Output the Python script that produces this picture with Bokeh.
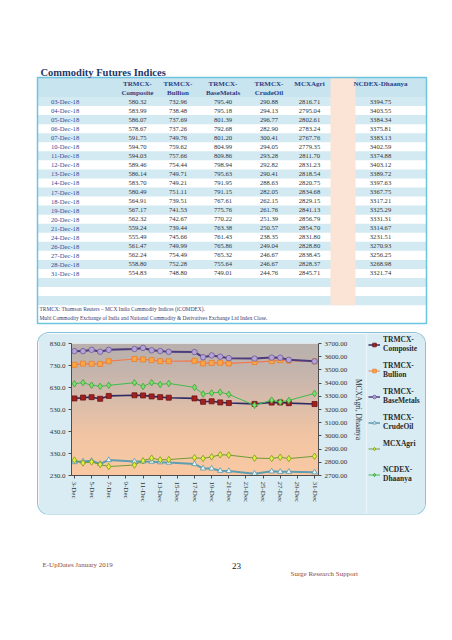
import numpy as np
from bokeh.plotting import figure
from bokeh.layouts import column, row
from bokeh.models import (Range1d, LinearAxis, FixedTicker, PrintfTickFormatter,
                          Legend, LegendItem, Spacer)
from bokeh.core.properties import value
from bokeh.embed import file_html
from bokeh.resources import INLINE

# ---------------- data ----------------
title = "Commodity Futures Indices"
series_names = ["TRMCX-Composite", "TRMCX-Bullion", "TRMCX-BaseMetals",
                "TRMCX-CrudeOil", "MCXAgri", "NCDEX-Dhaanya"]
dates = ["03-Dec-18", "04-Dec-18", "05-Dec-18", "06-Dec-18", "07-Dec-18",
         "10-Dec-18", "11-Dec-18", "12-Dec-18", "13-Dec-18", "14-Dec-18",
         "17-Dec-18", "18-Dec-18", "19-Dec-18", "20-Dec-18", "21-Dec-18",
         "24-Dec-18", "26-Dec-18", "27-Dec-18", "28-Dec-18", "31-Dec-18"]
composite = [580.32, 583.99, 586.07, 578.67, 591.75, 594.70, 594.03, 589.46, 586.14, 583.70,
             580.49, 564.91, 567.17, 562.32, 559.24, 555.49, 561.47, 562.24, 558.80, 554.83]
bullion = [732.96, 738.48, 737.69, 737.26, 749.76, 759.62, 757.66, 754.44, 749.71, 749.21,
           751.11, 739.51, 741.53, 742.67, 739.44, 745.66, 749.99, 754.49, 752.28, 748.80]
basemetals = [795.40, 795.18, 801.39, 792.68, 801.20, 804.99, 809.86, 798.94, 795.63, 791.95,
              791.15, 767.61, 775.76, 770.22, 763.38, 761.43, 765.86, 765.32, 755.64, 749.01]
crudeoil = [290.88, 294.13, 296.77, 282.90, 300.41, 294.05, 293.28, 292.82, 290.41, 288.63,
            282.05, 262.15, 261.76, 251.39, 250.57, 238.35, 249.04, 246.67, 246.67, 244.76]
mcxagri = [2816.71, 2795.04, 2802.61, 2783.24, 2767.76, 2779.35, 2811.70, 2831.23, 2818.54, 2820.75,
           2834.68, 2829.15, 2841.13, 2856.79, 2854.70, 2831.80, 2828.80, 2838.45, 2828.37, 2845.71]
ncdex = [3394.75, 3403.55, 3384.34, 3375.81, 3383.13, 3402.59, 3374.88, 3403.12, 3389.72, 3397.63,
         3367.75, 3317.21, 3325.29, 3331.31, 3314.67, 3231.51, 3270.93, 3256.25, 3268.98, 3321.74]
notes = ["TRMCX: Thomson Reuters \u2013 MCX India Commodity Indices (iCOMDEX).",
         "Multi Commodity Exchange of India and National Commodity & Derivatives Exchange Ltd Index Close."]
x_tick_labels = ["3-Dec", "5-Dec", "7-Dec", "9-Dec", "11-Dec", "13-Dec", "15-Dec", "17-Dec",
                 "19-Dec", "21-Dec", "23-Dec", "25-Dec", "27-Dec", "29-Dec", "31-Dec"]
left_ticks = [230, 330, 430, 530, 630, 730, 830]
right_ticks = [2700, 2800, 2900, 3000, 3100, 3200, 3300, 3400, 3500, 3600, 3700]
footer_left = "E-UpDates January 2019"
footer_page = "23"
footer_right = "Surge Research Support"

SERIF = value("Liberation Serif")
W = 452
BOX_BG = "#d9ecf3"

# ---------------- top: title + table ----------------
top = figure(width=W, height=333, x_range=Range1d(0, 452), y_range=Range1d(333, 0),
             output_backend="svg", toolbar_location=None, min_border=0,
             x_axis_type=None, y_axis_type=None, outline_line_color=None)
top.grid.visible = False

t_left, t_right, t_top, t_bot = 37, 426, 77, 323
head_bot = 96.5
pitch = 9.05
n_rows = len(dates) + 3
top.quad(left=t_left, right=t_right, top=t_top, bottom=head_bot, fill_color="#c8e4ef", line_color=None)
for i in range(n_rows):
    if i % 2 == 0:
        y0 = head_bot + i * pitch
        top.quad(left=t_left, right=t_right, top=y0, bottom=y0 + pitch,
                 fill_color="#d3eaf3", line_color=None)
rows_end = head_bot + n_rows * pitch
top.quad(left=330, right=355, top=t_top, bottom=rows_end, fill_color="#fbe4d5", line_color=None)
top.quad(left=t_left, right=t_right, top=t_top, bottom=t_bot, fill_color=None,
         line_color="#6cc4df", line_width=1.5)

top.text(x=[40], y=[72], text=[title], text_font=SERIF, text_font_style="bold",
         text_font_size="10.5px", text_color="#1f3566", text_baseline="middle")

col_x = [137, 177.5, 222.5, 268.5, 309, 380]
head1, head2 = [], []
for name in series_names:
    if name.startswith("TRMCX-"):
        head1.append("TRMCX-"); head2.append(name[6:])
    else:
        head1.append(name); head2.append("")
top.text(x=col_x, y=[83.5] * 6, text=head1, text_font=SERIF, text_font_style="bold",
         text_font_size="7px", text_color="#2b3f86", text_align="center", text_baseline="middle")
top.text(x=col_x, y=[92] * 6, text=head2, text_font=SERIF, text_font_style="bold",
         text_font_size="7px", text_color="#2b3f86", text_align="center", text_baseline="middle")

row_y = [head_bot + (i + 0.5) * pitch for i in range(len(dates))]
top.text(x=[50.5] * len(dates), y=row_y, text=dates, text_font=SERIF, text_font_size="6.6px",
         text_color="#34499a", text_baseline="middle")
all_series = [composite, bullion, basemetals, crudeoil, mcxagri, ncdex]
for vals, cx in zip(all_series, col_x):
    top.text(x=[cx] * len(vals), y=row_y, text=["%.2f" % v for v in vals], text_font=SERIF,
             text_font_size="6.6px", text_color="#333333", text_align="center",
             text_baseline="middle")
top.text(x=[39, 39], y=[308, 317.5], text=notes, text_font=SERIF, text_font_size="5.4px",
         text_color="#2f3d74", text_baseline="middle")

# ---------------- chart ----------------
days = [int(d.split("-")[0]) for d in dates]
x_ticks = [int(l.split("-")[0]) for l in x_tick_labels]
x0, x1 = 2.656, 31.46
chart = figure(width=328, height=181, x_range=Range1d(x0, x1), y_range=Range1d(230, 830),
               output_backend="svg", toolbar_location=None,
               min_border_left=33, min_border_right=44, min_border_top=10, min_border_bottom=39,
               border_fill_color=BOX_BG, background_fill_color=None, outline_line_color=None,
               frame_align=False)
chart.extra_y_ranges = {"agri": Range1d(2700, 3700)}

ny = 132
ys = np.linspace(230, 830, ny)
stop_y = [230, 420, 560, 700, 830]
stop_c = [(250, 201, 163), (241, 197, 165), (219, 189, 170), (197, 181, 173), (185, 177, 173)]
img = np.zeros((ny, 2), dtype=np.uint32)
view = img.view(dtype=np.uint8).reshape((ny, 2, 4))
for k in range(3):
    col = np.interp(ys, stop_y, [c[k] for c in stop_c])
    view[:, 0, k] = col
    view[:, 1, k] = col
view[:, :, 3] = 255
chart.image_rgba(image=[img], x=x0, y=230, dw=x1 - x0, dh=600)

chart.xgrid.visible = False
chart.ygrid.ticker = FixedTicker(ticks=left_ticks[1:-1])
chart.ygrid.grid_line_color = "white"
chart.ygrid.grid_line_dash = "3 2"
chart.ygrid.grid_line_width = 1

chart.yaxis.ticker = FixedTicker(ticks=left_ticks)
chart.yaxis.formatter = PrintfTickFormatter(format="%.1f")
chart.xaxis.ticker = FixedTicker(ticks=x_ticks)
chart.xaxis.major_label_overrides = {t: l for t, l in zip(x_ticks, x_tick_labels)}
chart.xaxis.major_label_orientation = "vertical"

ax_r = LinearAxis(y_range_name="agri", ticker=FixedTicker(ticks=right_ticks),
                  formatter=PrintfTickFormatter(format="%.2f"), axis_label="MCXAgri, Dhaanya")
chart.add_layout(ax_r, "right")

for ax in chart.axis:
    ax.axis_line_color = "#4d4d4d"
    ax.major_tick_line_color = "#4d4d4d"
    ax.major_tick_out = 3
    ax.major_tick_in = 0
    ax.minor_tick_line_color = None
    ax.major_label_text_font = "Liberation Serif"
    ax.major_label_text_font_size = "7px"
    ax.major_label_text_color = "#333333"
    ax.major_label_standoff = 3
    ax.axis_label_text_font = "Liberation Serif"
    ax.axis_label_text_font_size = "7.5px"
    ax.axis_label_text_font_style = "normal"
    ax.axis_label_text_color = "#333333"
    ax.axis_label_standoff = 4

styles = [
    dict(data=composite, rng="default", line="#2d2b63", lw=1.6, marker="square", fill="#a3201f", edge="#6a1515", size=5),
    dict(data=bullion, rng="default", line="#f07a52", lw=1.2, marker="square", fill="#f9a548", edge="#e8802c", size=5),
    dict(data=basemetals, rng="default", line="#4b3c7d", lw=2, marker="circle", fill="#b7a2d5", edge="#6c5a9c", size=5.5),
    dict(data=crudeoil, rng="default", line="#5f9db1", lw=2, marker="triangle", fill="#e6f6f9", edge="#5a97ad", size=5.5),
    dict(data=mcxagri, rng="agri", line="#6e9a3a", lw=1, marker="diamond", fill="#e3ef3e", edge="#7a9a1e", size=6.5),
    dict(data=ncdex, rng="agri", line="#3fbc4b", lw=1, marker="diamond", fill="#7ee068", edge="#3b9f40", size=6.5),
]

# legend lives in its own small panel to the right of the chart; its proxy
# renderers carry the same data but the panel's ranges keep them out of view
legfig = figure(width=59, height=181, x_range=Range1d(100, 101), y_range=Range1d(0, 1),
                output_backend="svg", toolbar_location=None, min_border=0,
                x_axis_type=None, y_axis_type=None, outline_line_color=None,
                background_fill_color=BOX_BG, border_fill_color=BOX_BG, frame_align=False)
legfig.grid.visible = False

items = []
for k, (name, s) in enumerate(zip(series_names, styles)):
    chart.line(days, s["data"], line_color=s["line"], line_width=s["lw"], y_range_name=s["rng"])
    chart.scatter(days, s["data"], marker=s["marker"], size=s["size"], fill_color=s["fill"],
                  line_color=s["edge"], line_width=0.8, y_range_name=s["rng"])
    lr = legfig.line(days, s["data"], line_color=s["line"], line_width=min(s["lw"], 1.5))
    mr = legfig.scatter(days, s["data"], marker=s["marker"], size=s["size"], fill_color=s["fill"],
                        line_color=s["edge"], line_width=0.8)
    label = name.replace("-", "-\n", 1) if "-" in name else name + "\n "
    items.append(LegendItem(label=label, renderers=[lr, mr]))

legend = Legend(items=items, location="top_left", background_fill_alpha=0, border_line_color=None,
                label_text_font="Liberation Serif", label_text_font_style="bold",
                label_text_font_size="7.5px", label_text_color="#2a2a2a",
                glyph_width=12, glyph_height=9, spacing=8, padding=4, margin=2,
                label_standoff=3)
legfig.add_layout(legend)

box = row(chart, legfig, styles={"border-radius": "11px", "overflow": "hidden",
                                 "box-shadow": "0 0 0 1px #86c1d7"})

# ---------------- bottom: footer ----------------
bottom = figure(width=W, height=124, x_range=Range1d(0, 452), y_range=Range1d(638, 514),
                output_backend="svg", toolbar_location=None, min_border=0,
                x_axis_type=None, y_axis_type=None, outline_line_color=None)
bottom.grid.visible = False
bottom.text(x=[42], y=[564], text=[footer_left], text_font=SERIF, text_font_size="7px",
            text_color="#8c4a3c", text_baseline="middle")
bottom.text(x=[236], y=[565], text=[footer_page], text_font=SERIF, text_font_size="9px",
            text_color="#111111", text_baseline="middle", text_align="center")
bottom.text(x=[290], y=[573], text=[footer_right], text_font=SERIF, text_font_size="7px",
            text_color="#8c4a3c", text_baseline="middle")

page = column(top, row(Spacer(width=38, height=181), box, Spacer(width=27, height=181)), bottom)

open("out.html", "w").write(file_html(page, INLINE))
